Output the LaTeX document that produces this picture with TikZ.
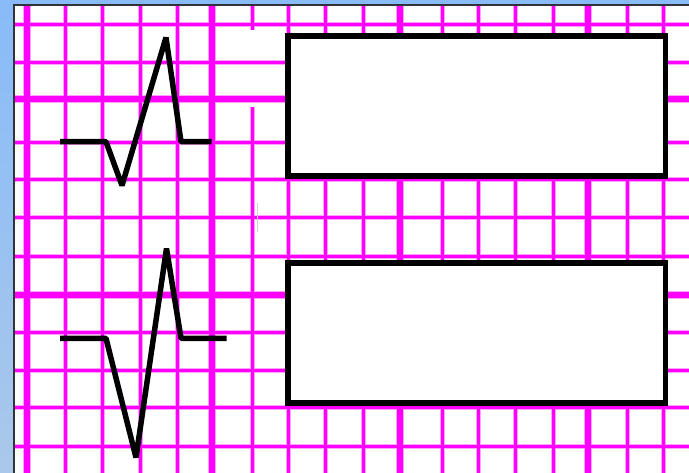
\documentclass[tikz,border=0pt]{standalone}
\definecolor{skytop}{RGB}{136,187,248}
\definecolor{skybot}{RGB}{170,200,234}
\definecolor{gridmag}{RGB}{255,0,255}
\definecolor{gridhalo}{RGB}{255,160,255}
\definecolor{frameline}{RGB}{50,50,60}
\tikzset{
  minorhalo/.style={draw=gridhalo,line width=5pt},
  minorcore/.style={draw=gridmag,line width=3pt},
  majorhalo/.style={draw=gridhalo,line width=8pt},
  majorcore/.style={draw=gridmag,line width=5.5pt},
  ecgtrace/.style={draw=black,line width=5.5pt,line join=bevel,line cap=butt},
  labelbox/.style={draw=black,fill=white,line width=5.5pt,line join=miter,
    rectangle,inner sep=0pt,minimum width=377.5pt,minimum height=140pt}
}
\begin{document}
\begin{tikzpicture}[x=1pt,y=-1pt]
\useasboundingbox (0,0) rectangle (689,473);
% blue surround
\shade[top color=skytop,bottom color=skybot] (0,0) rectangle (689,473);
% paper
\fill[white] (14,5) rectangle (689,473);
\begin{scope}
\clip (14,5) rectangle (689,473);
% halos first
\foreach \vx in {65,102,140,177,288,325,363,442,478,515,553,627,663}{
  \draw[minorhalo] (\vx,5) -- (\vx,473);
}
\draw[minorhalo] (252,5) -- (252,30);
\draw[minorhalo] (252,107) -- (252,473);
\foreach \hy in {25,63,143,180,218,257,333,371,408,446}{
  \draw[minorhalo] (14,\hy) -- (689,\hy);
}
\foreach \vx in {27,212,400,588}{
  \draw[majorhalo] (\vx,5) -- (\vx,473);
}
\foreach \hy in {99,295}{
  \draw[majorhalo] (14,\hy) -- (689,\hy);
}
% cores
\foreach \vx in {65,102,140,177,288,325,363,442,478,515,553,627,663}{
  \draw[minorcore] (\vx,5) -- (\vx,473);
}
\draw[minorcore] (252,5) -- (252,30);
\draw[minorcore] (252,107) -- (252,473);
\foreach \hy in {25,63,143,180,218,257,333,371,408,446}{
  \draw[minorcore] (14,\hy) -- (689,\hy);
}
\foreach \vx in {27,212,400,588}{
  \draw[majorcore] (\vx,5) -- (\vx,473);
}
\foreach \hy in {99,295}{
  \draw[majorcore] (14,\hy) -- (689,\hy);
}
% faint tick
\draw[black!18,line width=1pt] (257.3,203) -- (257.3,232);
\end{scope}
% frame lines
\draw[frameline,line width=1.3pt] (14,473) -- (14,5) -- (689,5);
% label boxes
\node[labelbox] (boxA) at (476.75,106) {};
\node[labelbox] (boxB) at (476.75,333) {};
% ECG traces
\draw[ecgtrace] (60,141.7) -- (106,141.7) -- (122,185.5) -- (166,37.5) -- (181,141.7) -- (211.7,141.7);
\draw[ecgtrace] (60,338.3) -- (106,338.3) -- (136,457.5) -- (166.5,248.5) -- (181,338.3) -- (226.7,338.3);
\end{tikzpicture}
\end{document}
